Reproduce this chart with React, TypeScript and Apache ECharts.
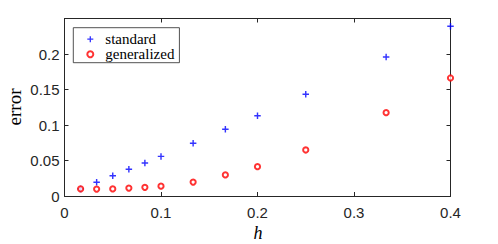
import React, { useEffect, useRef } from "react";
import * as echarts from "echarts";

const hValues = [0.0167, 0.0333, 0.05, 0.0667, 0.0833, 0.1, 0.1333, 0.1667, 0.2, 0.25, 0.3333, 0.4];
const standardErr = [0.0100, 0.0193, 0.0284, 0.0376, 0.0465, 0.0558, 0.0742, 0.0939, 0.1131, 0.1432, 0.1958, 0.2390];
const generalizedErr = [0.0099, 0.0098, 0.0099, 0.0112, 0.0122, 0.0138, 0.0197, 0.0296, 0.0413, 0.0648, 0.1173, 0.1662];
const seriesNames = ["standard", "generalized"];
const xLabel = "h";
const yLabel = "error";

const AX = "#262626";
const PLUS = "path://M3.9,0H6.1V3.9H10V6.1H6.1V10H3.9V6.1H0V3.9H3.9Z";

export default function App() {
  const ref = useRef<HTMLDivElement>(null);
  useEffect(() => {
    document.body.style.margin = "0";
    if (!ref.current) return;
    const chart = echarts.init(ref.current, null, { renderer: "svg" });
    const tickFont = { fontFamily: "Liberation Sans", fontSize: 15, color: AX };
    const baseX = {
      type: "value" as const,
      min: 0,
      max: 0.4,
      interval: 0.1,
      splitLine: { show: false },
      axisLine: { show: true, onZero: false, lineStyle: { color: AX, width: 1 } },
      axisTick: { show: true, inside: true, length: 4, lineStyle: { color: AX } },
    };
    const baseY = {
      type: "value" as const,
      min: 0,
      max: 0.25,
      interval: 0.05,
      splitLine: { show: false },
      axisLine: { show: true, onZero: false, lineStyle: { color: AX, width: 1 } },
      axisTick: { show: true, inside: true, length: 4, lineStyle: { color: AX } },
    };
    chart.setOption({
      animation: false,
      grid: { left: 64.5, right: 47.5, top: 18.5, bottom: 48, containLabel: false },
      xAxis: [
        {
          ...baseX,
          position: "bottom",
          axisLabel: { ...tickFont, margin: 9, formatter: (v: number) => String(+v.toFixed(2)) },
        },
        { ...baseX, position: "top", axisLabel: { show: false } },
      ],
      yAxis: [
        {
          ...baseY,
          position: "left",
          axisLabel: {
            ...tickFont,
            margin: 5,
            formatter: (v: number) => (v > 0.21 ? "" : String(+v.toFixed(2))),
          },
        },
        { ...baseY, position: "right", axisLabel: { show: false } },
      ],
      legend: {
        left: 73.3,
        top: 27.7,
        orient: "vertical",
        padding: [4, 5, 1, 13],
        itemGap: 0,
        itemWidth: 20,
        itemHeight: 6,
        borderColor: AX,
        borderWidth: 0.8,
        borderRadius: 0,
        backgroundColor: "#fff",
        textStyle: { fontFamily: "Liberation Serif", fontSize: 15, color: "#000", lineHeight: 12 },
        data: [
          { name: seriesNames[0], icon: PLUS },
          { name: seriesNames[1], icon: "emptyCircle" },
        ],
      },
      series: [
        {
          name: seriesNames[0],
          type: "scatter",
          symbol: PLUS,
          symbolSize: 6.5,
          itemStyle: { color: "#0000ff" },
          data: hValues.map((h, i) => [h, standardErr[i]]),
        },
        {
          name: seriesNames[1],
          type: "scatter",
          symbol: "emptyCircle",
          symbolSize: 5.2,
          itemStyle: { color: "#ff0000", borderColor: "#ff0000", borderWidth: 1.2 },
          data: hValues.map((h, i) => [h, generalizedErr[i]]),
        },
      ],
      graphic: [
        {
          type: "text",
          x: 14,
          y: 107,
          rotation: Math.PI / 2,
          style: {
            text: yLabel,
            font: "19px 'Liberation Serif'",
            fill: "#000",
            align: "center",
            verticalAlign: "middle",
          },
        },
        {
          type: "text",
          x: 258,
          y: 233,
          style: {
            text: xLabel,
            font: "italic 18px 'Liberation Serif'",
            fill: "#000",
            align: "center",
            verticalAlign: "middle",
          },
        },
      ],
    });
    return () => chart.dispose();
  }, []);
  return <div ref={ref} style={{ width: 498, height: 244 }} />;
}
